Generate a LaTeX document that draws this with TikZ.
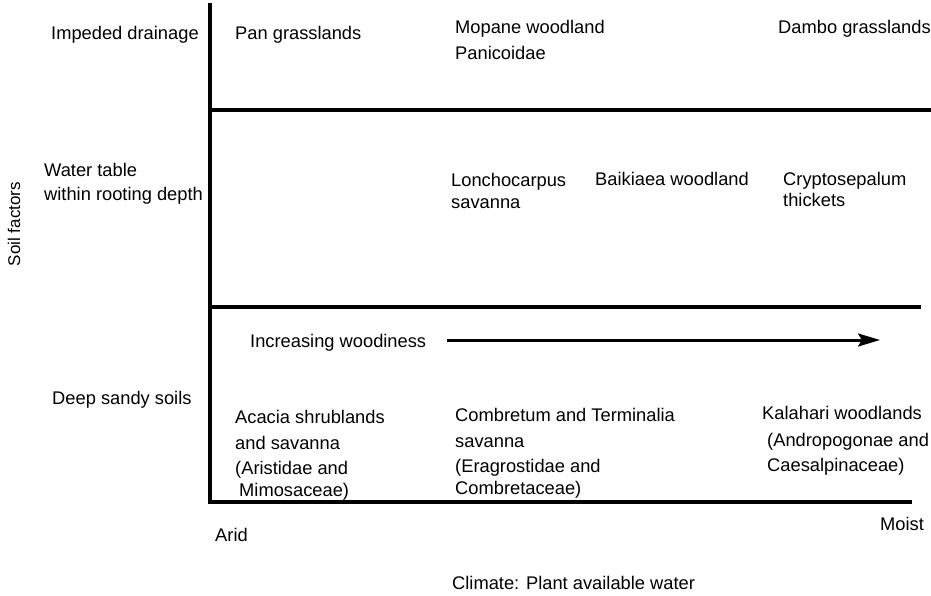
\documentclass[tikz,border=0pt]{standalone}
\usepackage{fontspec}
\setmainfont{Liberation Sans}
\usetikzlibrary{arrows.meta}
\begin{document}
\begin{tikzpicture}[x=1pt,y=-1pt,
  lbl/.style={anchor=base west,inner sep=0pt,font=\fontsize{18.3}{22}\selectfont},
  axisline/.style={line width=4pt,line cap=rect},
  rowline/.style={line width=3.5pt}]
\useasboundingbox (0,0) rectangle (931,595);
% axes and row lines
\coordinate (top) at (210,5);
\coordinate (corner) at (210,502);
\coordinate (xend) at (910,502);
\coordinate (r1a) at (210,110);
\coordinate (r1b) at (931,110);
\coordinate (r2a) at (210,307);
\coordinate (r2b) at (921,307);
\draw[axisline] (top) -- (corner) -- (xend);
\draw[rowline] (r1a) -- (r1b);
\draw[rowline] (r2a) -- (r2b);
% row labels
\node[lbl] (imp) at (51,39) {Impeded drainage};
\node[lbl] (wt1) at (44,176) {Water table};
\node[lbl] (wt2) at (44,200) {within rooting depth};
\node[lbl] (deep) at (52,404) {Deep sandy soils};
\node[inner sep=0pt,font=\fontsize{17}{20}\selectfont,rotate=90] (soil) at (14,224) {Soil factors};
% top row
\node[lbl] (pan) at (235,39) {Pan grasslands};
\node[lbl] (mop) at (455,33) {Mopane woodland};
\node[lbl] (pani) at (455,59) {Panicoidae};
\node[lbl] (dam) at (778,33) {Dambo grasslands};
% middle row
\node[lbl] (lon1) at (451,186) {Lonchocarpus};
\node[lbl] (lon2) at (451,208) {savanna};
\node[lbl] (bai) at (595,185) {Baikiaea woodland};
\node[lbl] (cry1) at (783,185) {Cryptosepalum};
\node[lbl] (cry2) at (783,206) {thickets};
% bottom row
\node[lbl] (inc) at (250,347) {Increasing woodiness};
\coordinate (a0) at (447,340);
\coordinate (a1) at (880,340);
\draw[line width=3pt,-{Stealth[length=22pt,width=13pt,inset=4pt]}] (a0) -- (a1);
\node[lbl] (ac1) at (235,423) {Acacia shrublands};
\node[lbl] (ac2) at (235,449) {and savanna};
\node[lbl] (ac3) at (235,474) {(Aristidae and};
\node[lbl] (ac4) at (239,496) {Mimosaceae)};
\node[lbl] (co1) at (455,421) {Combretum and Terminalia};
\node[lbl] (co2) at (455,447) {savanna};
\node[lbl] (co3) at (455,472) {(Eragrostidae and};
\node[lbl] (co4) at (455,494) {Combretaceae)};
\node[lbl] (ka1) at (762,419) {Kalahari woodlands};
\node[lbl] (ka2) at (767,446) {(Andropogonae and};
\node[lbl] (ka3) at (767,471) {Caesalpinaceae)};
% x axis labels
\node[lbl] (arid) at (215,541) {Arid};
\node[lbl] (moist) at (880,530) {Moist};
\node[lbl] (clim) at (452,589) {Climate: Plant available water};
\end{tikzpicture}
\end{document}
